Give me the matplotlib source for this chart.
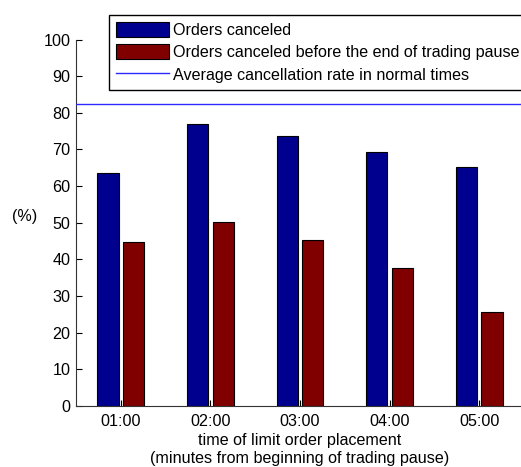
import matplotlib
matplotlib.use("Agg")
import matplotlib.pyplot as plt
import numpy as np

plt.rcParams['font.family'] = ['Liberation Sans', 'DejaVu Sans']

categories = ["01:00", "02:00", "03:00", "04:00", "05:00"]
orders_canceled = [63.6, 76.9, 73.7, 69.3, 65.1]
canceled_before_end = [44.7, 50.3, 45.4, 37.7, 25.6]
avg_normal = 82.4
yticks = list(range(0, 101, 10))

FS = 11.6

fig = plt.figure(figsize=(5.21, 4.67), dpi=100)
ax = fig.add_axes([76/521, 61/467, 448/521, 366.5/467])

x = np.arange(1, len(categories) + 1)
w = 0.235
off = 0.143
b1 = ax.bar(x - off, orders_canceled, width=w, color='#00008F', edgecolor='black',
            linewidth=0.8, label='Orders canceled', zorder=2)
b2 = ax.bar(x + off, canceled_before_end, width=w, color='#800000', edgecolor='black',
            linewidth=0.8, label='Orders canceled before the end of trading pause', zorder=2)
ln = ax.axhline(avg_normal, color='#2a2aff', linewidth=1.0,
                label='Average cancellation rate in normal times', zorder=3)

ax.set_xlim(0.5, len(categories) + 0.5)
ax.set_ylim(0, 100)
ax.set_xticks(x)
ax.set_xticklabels(categories)
ax.set_yticks(yticks)
ax.tick_params(direction='in', length=4, width=0.8, labelsize=FS)
ax.tick_params(axis='x', pad=6)
ax.tick_params(axis='y', pad=4)
for s in ['top', 'right']:
    ax.spines[s].set_visible(False)
for s in ['left', 'bottom']:
    ax.spines[s].set_color('#333333')
    ax.spines[s].set_linewidth(0.8)

ax.set_xlabel('time of limit order placement\n(minutes from beginning of trading pause)',
              fontsize=FS, labelpad=3, linespacing=1.18)
ax.set_ylabel('(%)', fontsize=FS, rotation=0, va='center', ha='center')
ax.yaxis.set_label_coords(-0.114, 0.518)

leg = fig.legend(handles=[b1, b2, ln], loc='upper left',
                 bbox_to_anchor=(109/521, 1 - 14.5/467), fontsize=FS,
                 frameon=True, fancybox=False, edgecolor='black', framealpha=1,
                 handlelength=3.25, handleheight=1.05, handletextpad=0.3,
                 labelspacing=0.4, borderpad=0.45, borderaxespad=0)
leg.get_frame().set_linewidth(1.0)

fig.savefig('out.png', dpi=100)
